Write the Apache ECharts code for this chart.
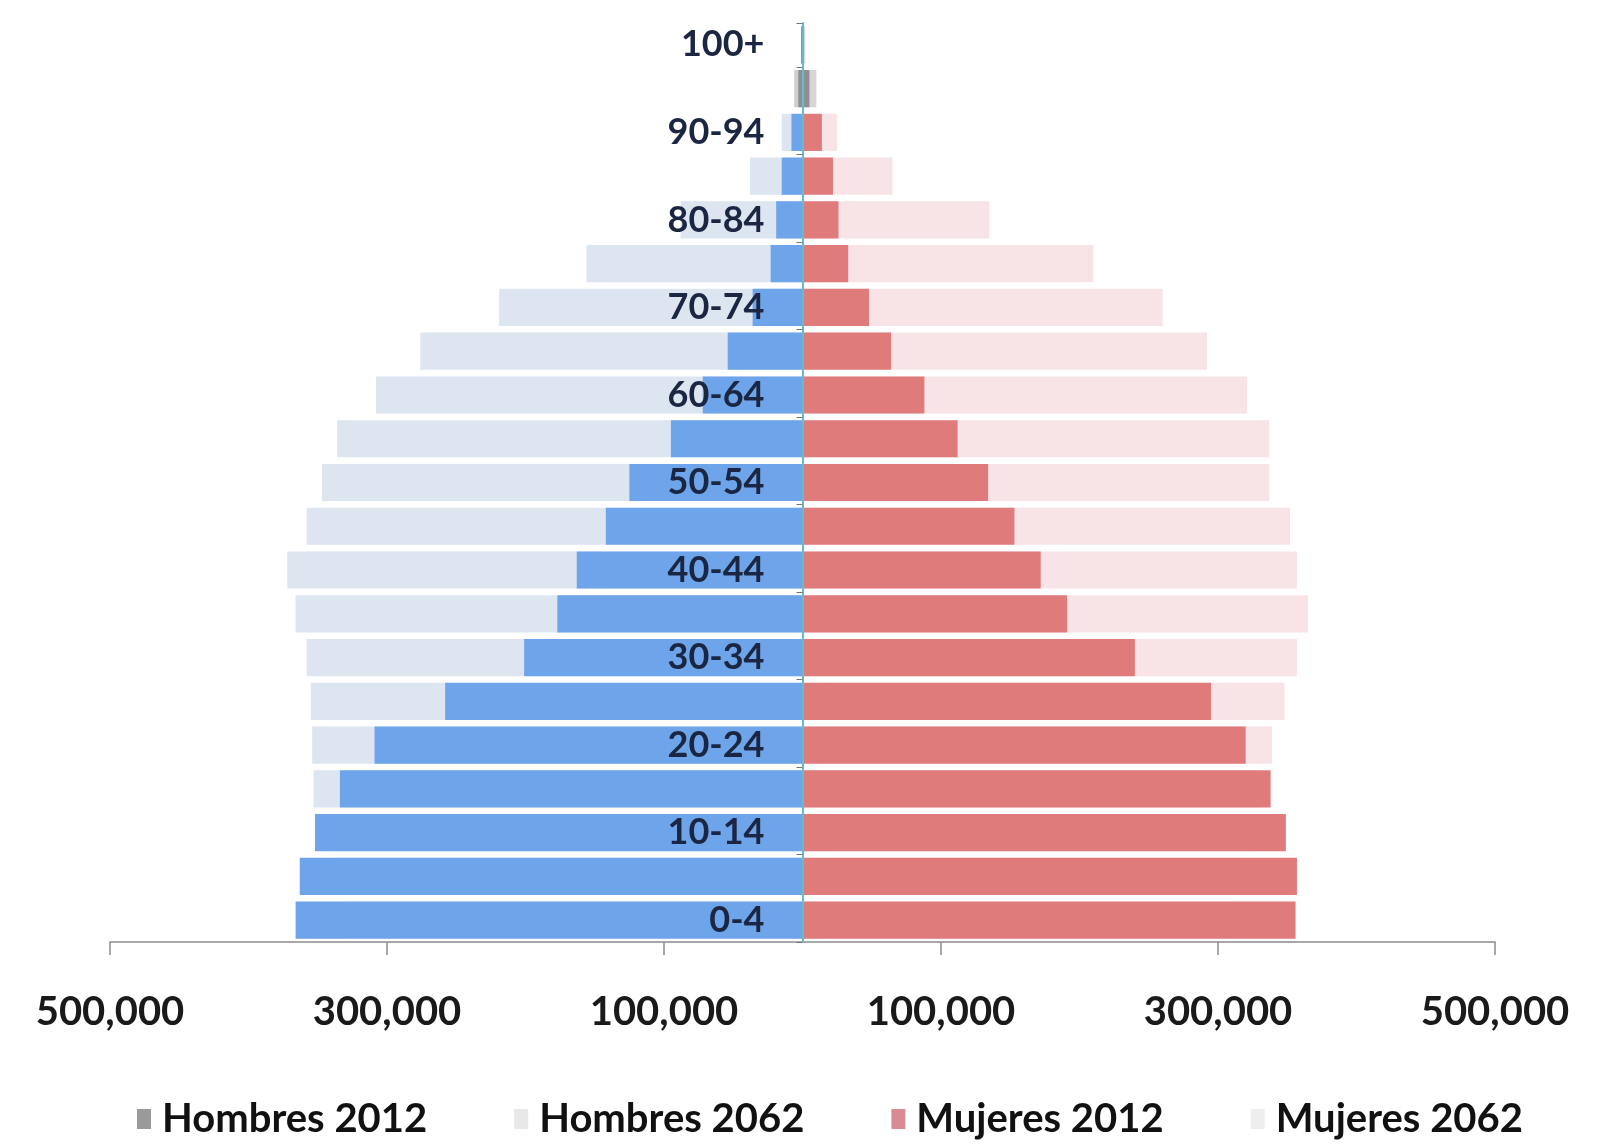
<!DOCTYPE html>
<html>
<head>
<meta charset="utf-8">
<script src="https://cdn.jsdelivr.net/npm/echarts@6/dist/echarts.min.js"></script>
<style>
html,body{margin:0;padding:0;background:#fff;}
#chart{width:1613px;height:1144px;}
</style>
</head>
<body>
<div id="chart"></div>
<script>
const categories = ['0-4','5-9','10-14','15-19','20-24','25-29','30-34','35-39','40-44','45-49','50-54','55-59','60-64','65-69','70-74','75-79','80-84','85-89','90-94','95-99','100+'];
const hombres2012 = [366000,363000,352000,334000,309000,258000,201000,177000,163000,142000,125000,95000,72000,54000,36000,23000,19000,15000,8000,3000,1000];
const hombres2062 = [330000,338000,345000,353000,354000,355000,358000,366000,372000,358000,347000,336000,308000,276000,219000,156000,88000,38000,15000,6000,1000];
const mujeres2012 = [356000,357000,349000,338000,320000,295000,240000,191000,172000,153000,134000,112000,88000,64000,48000,33000,26000,22000,14000,5000,1000];
const mujeres2062 = [312000,318000,325000,330000,339000,348000,357000,365000,357000,352000,337000,337000,321000,292000,260000,210000,135000,65000,25000,10000,2000];
const xTickValues = [-500000,-300000,-100000,100000,300000,500000];
const seriesNames = ['Hombres 2012','Hombres 2062','Mujeres 2012','Mujeres 2062'];

const FONT = 'Lato';
const GRID_LEFT = 110, GRID_RIGHT = 118;
const topGray = (arr, sign, color) => arr.map((v, i) => i >= 19 ? {value: sign * v, itemStyle: {color: color}} : sign * v);

const chart = echarts.init(document.getElementById('chart'), null, {renderer: 'canvas'});
const barCommon = {type: 'bar', barGap: '-100%', barCategoryGap: '15%', animation: false};
const plotWidth = 1613 - GRID_LEFT - GRID_RIGHT;

chart.setOption({
  backgroundColor: '#ffffff',
  textStyle: {fontFamily: FONT},
  grid: {left: GRID_LEFT, right: GRID_RIGHT, top: 23, bottom: 202, containLabel: false, outerBoundsMode: 'none'},
  xAxis: {
    type: 'value', min: -500000, max: 500000,
    axisLine: {show: true, lineStyle: {color: '#8c8c8c', width: 1.5}},
    axisTick: {show: true, customValues: xTickValues, length: 13, lineStyle: {color: '#8c8c8c', width: 1.5}},
    axisLabel: {
      customValues: xTickValues, margin: 50,
      fontFamily: FONT, fontWeight: 'bold', fontSize: 40, color: '#1a1a1a',
      formatter: v => Math.abs(v).toLocaleString('en-US')
    },
    splitLine: {show: false}
  },
  yAxis: {
    type: 'category', data: categories, z: 10,
    position: 'left', offset: -plotWidth / 2,
    axisLine: {show: true, onZero: false, lineStyle: {color: '#62bcd2', width: 2}},
    axisTick: {show: true, length: 6, lineStyle: {color: '#777'}},
    axisLabel: {interval: 1, margin: 38, fontFamily: FONT, fontWeight: 'bold', fontSize: 36, color: '#1b2642'}
  },
  legend: {
    bottom: 0, left: 132, itemGap: 87, itemWidth: 14, itemHeight: 20, icon: 'rect',
    textStyle: {fontFamily: FONT, fontWeight: 'bold', fontSize: 40, color: '#111', padding: [0, 0, 0, 6]},
    data: [
      {name: seriesNames[0], itemStyle: {color: '#9a9a9a'}},
      {name: seriesNames[1], itemStyle: {color: '#e8e8e8'}},
      {name: seriesNames[2], itemStyle: {color: '#d98b94'}},
      {name: seriesNames[3], itemStyle: {color: '#eeeeee'}}
    ]
  },
  series: [
    Object.assign({}, barCommon, {name: seriesNames[1], z: 2, itemStyle: {color: '#dde5f1'}, data: topGray(hombres2062, -1, '#cfcfcf')}),
    Object.assign({}, barCommon, {name: seriesNames[3], z: 2, itemStyle: {color: '#f8e4e7'}, data: topGray(mujeres2062, 1, '#d6d6d6')}),
    Object.assign({}, barCommon, {name: seriesNames[0], z: 3, itemStyle: {color: '#6ea5ea'}, data: topGray(hombres2012, -1, '#8f8f8f')}),
    Object.assign({}, barCommon, {name: seriesNames[2], z: 3, itemStyle: {color: '#e07b7c'}, data: topGray(mujeres2012, 1, '#8f8f8f')})
  ]
});
</script>
</body>
</html>
